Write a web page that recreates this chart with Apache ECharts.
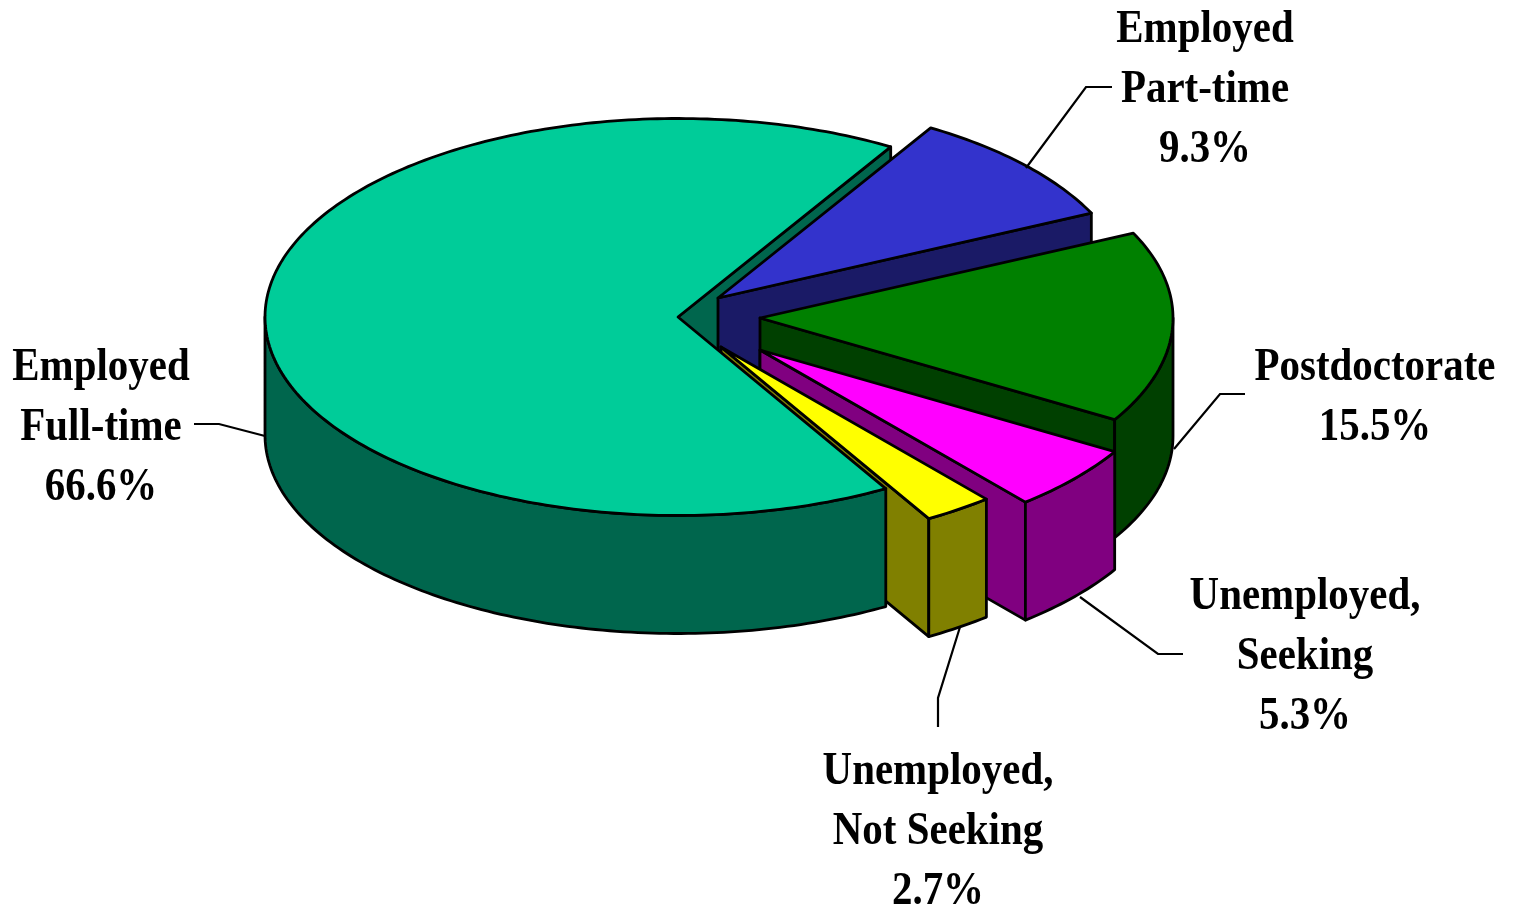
<!DOCTYPE html>
<html>
<head>
<meta charset="utf-8">
<style>html,body{margin:0;padding:0;background:#fff}#chart{width:1522px;height:908px}</style>
<script src="https://cdn.jsdelivr.net/npm/echarts@6/dist/echarts.min.js"></script>
</head>
<body>
<div id="chart"></div>
<script>
// Data, clockwise from the top right
const categories = ['Employed\nPart-time', 'Postdoctorate', 'Unemployed,\nSeeking', 'Unemployed,\nNot Seeking', 'Employed\nFull-time'];
const shares = [9.3, 15.5, 5.3, 2.7, 66.6];
const percentLabels = ['9.3%', '15.5%', '5.3%', '2.7%', '66.6%'];

// Styles and layout
const topColors = ['#3333CC', '#008000', '#FF00FF', '#FFFF00', '#00CC99'];
const wallColors = ['#1A1A66', '#004000', '#800080', '#808000', '#00664D'];
const apexes = [[718, 298], [760, 318], [760, 350], [721, 347], [678, 317]];
const labelCentres = [[1205, 90], [1375, 398], [1305, 657], [938, 832], [101, 428]];
const leaders = [
  [[1026, 168], [1086, 87], [1112, 87]],
  [[1174, 449], [1220, 394], [1245, 394]],
  [[1080, 597], [1158, 654], [1183, 654]],
  [[960, 627], [938, 698], [938, 727]],
  [[265, 436], [219, 424], [194, 424]]
];
const RX = 413, RY = 198.5, DEPTH = 118, START = 59, LW = 2.8;

const total = shares.reduce((a, b) => a + b, 0);
let cursor = START;
const spans = shares.map(v => { const a0 = cursor; cursor -= v / total * 360; return [a0, cursor]; });

function pt(apex, deg, dy) {
  const r = deg * Math.PI / 180;
  return [apex[0] + RX * Math.cos(r), apex[1] - RY * Math.sin(r) + (dy || 0)];
}
function arc(apex, a0, a1, dy) {
  const n = Math.max(2, Math.ceil(Math.abs(a0 - a1)));
  const out = [];
  for (let i = 0; i <= n; i++) out.push(pt(apex, a0 + (a1 - a0) * i / n, dy));
  return out;
}
function poly(points, fill, z2) {
  return { type: 'polygon', z2: z2, silent: true,
    shape: { points: points },
    style: { fill: fill, stroke: '#000', lineWidth: LW, lineJoin: 'round' } };
}
function renderSlice(params, api) {
  const i = api.value(1), top = topColors[i], wall = wallColors[i], apex = apexes[i];
  const a0 = spans[i][0], a1 = spans[i][1];
  const isMain = i === 4;
  const base = isMain ? 100 : 10 + i * 10;
  const children = [];
  const p = pt(apex, a1);
  // cut face on the clockwise end; the main slice's one lies behind everything
  children.push(poly([apex, p, [p[0], p[1] + DEPTH], [apex[0], apex[1] + DEPTH]], wall, isMain ? 1 : base));
  const w0 = Math.min(a0, 0), w1 = Math.max(a1, -180);
  if (w0 > w1) {
    children.push(poly(arc(apex, w0, w1).concat(arc(apex, w1, w0, DEPTH)), wall, base + 1));
  }
  children.push(poly([apex].concat(arc(apex, a0, a1)), top, base + 2));
  return { type: 'group', children: children };
}
function renderCallout(params, api) {
  const i = api.value(1), c = labelCentres[i];
  return { type: 'group', children: [
    { type: 'polyline', z2: 200, silent: true, shape: { points: leaders[i] },
      style: { fill: null, stroke: '#000', lineWidth: 2.2 } },
    { type: 'text', z2: 201, silent: true, x: c[0], y: c[1], scaleX: 0.89,
      style: { text: categories[i] + '\n' + percentLabels[i], align: 'center', verticalAlign: 'middle',
        font: 'bold 46px "Liberation Serif"', lineHeight: 60, fill: '#000' } }
  ] };
}
const rows = shares.map((v, i) => [v, i]);
const chart = echarts.init(document.getElementById('chart'), null, { renderer: 'canvas' });
chart.setOption({
  animation: false,
  backgroundColor: '#fff',
  series: [
    { type: 'custom', coordinateSystem: 'none', renderItem: renderSlice, data: rows, silent: true, z: 2 },
    { type: 'custom', coordinateSystem: 'none', renderItem: renderCallout, data: rows, silent: true, z: 3 }
  ]
});
</script>
</body>
</html>
